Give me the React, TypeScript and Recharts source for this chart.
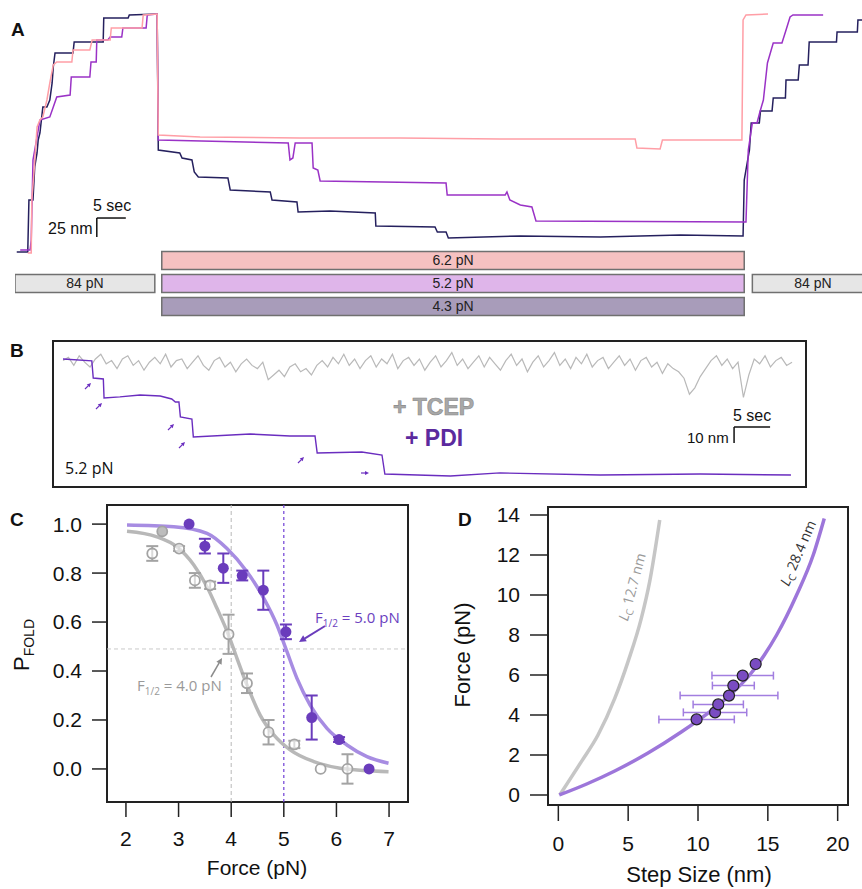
import React from "react";
import {
  LineChart,
  Line,
  XAxis,
  YAxis,
  ReferenceLine,
  ReferenceArea,
  ComposedChart,
  Scatter,
  ErrorBar,
} from "recharts";

const FONT = "'Liberation Sans', Arial, sans-serif";
const SOFT = "'Open Sans', sans-serif";

// ---------- A: extension traces, [time (s), extension (nm)]
const navyA = [
  [0.3, 7.9], [2.2, 7.9], [2.4, 76.3], [3.1, 76.3], [3.4, 119.8], [3.8, 138.2], [4.0, 155.3],
  [4.3, 164.5], [4.8, 198.7], [5.5, 198.7], [6.0, 207.9], [6.4, 230.3], [6.6, 251.4], [6.9, 269.8],
  [10.0, 269.8], [10.2, 284.3], [15.2, 284.3], [15.3, 315.8], [19.5, 315.8], [19.7, 319.8],
  [24.5, 321.1], [24.7, 142.1], [28.4, 138.2], [28.8, 131.6], [30.5, 129.0], [30.9, 113.2],
  [31.6, 106.6], [36.7, 105.3], [37.1, 89.5], [44.0, 86.9], [44.3, 76.3], [48.6, 73.7],
  [48.8, 60.5], [54.3, 61.9], [62.1, 59.2], [62.2, 42.1], [72.4, 40.8], [72.8, 34.2],
  [74.3, 34.2], [74.7, 26.3], [87.1, 29.0], [100.9, 27.6], [114.7, 30.3], [125.5, 29.0],
  [125.7, 102.6], [126.0, 115.8], [126.6, 142.1], [126.9, 177.7], [128.3, 177.7], [128.5, 193.5],
  [130.5, 193.5], [130.7, 210.6], [132.8, 210.6], [132.9, 234.2], [135.0, 234.2], [135.2, 254.0],
  [136.7, 254.0], [136.9, 284.3], [141.6, 284.3], [141.7, 297.4], [145.2, 297.4], [145.3, 313.2],
  [146.0, 313.2],
];
const purpleA = [
  [0.9, 10.5], [2.6, 10.5], [2.8, 23.7], [3.1, 129.0], [3.8, 159.2], [4.3, 181.6], [6.0, 185.6],
  [6.6, 198.7], [7.2, 211.9], [9.5, 214.5], [9.7, 238.2], [12.9, 238.2], [13.1, 257.9],
  [14.0, 257.9], [14.1, 286.9], [16.0, 286.9], [16.4, 290.8], [18.4, 290.8], [18.6, 302.7],
  [22.6, 302.7], [22.8, 319.8], [24.5, 321.1], [24.7, 155.3], [47.1, 151.3], [47.4, 129.0],
  [47.9, 131.6], [48.3, 151.3], [51.2, 151.3], [51.4, 118.4], [52.2, 115.8], [52.6, 101.3],
  [74.3, 98.7], [74.5, 82.9], [84.5, 82.9], [84.8, 86.9], [85.3, 76.3], [87.1, 69.7],
  [89.1, 67.1], [89.8, 48.7], [126.0, 47.4], [126.4, 142.1], [127.1, 177.7], [127.9, 177.7],
  [128.4, 192.2], [129.0, 207.9], [129.7, 256.6], [130.2, 269.8], [130.7, 282.9], [132.2, 282.9],
  [132.8, 297.4], [133.6, 317.2], [134.1, 319.8], [139.3, 319.8],
];
const pinkA = [
  [2.2, 6.6], [2.8, 6.6], [2.9, 76.3], [3.3, 115.8], [3.8, 172.4], [4.3, 181.6], [4.8, 185.6],
  [5.5, 207.9], [6.0, 230.3], [6.6, 254.0], [7.2, 257.9], [9.8, 257.9], [10.0, 273.7],
  [12.9, 273.7], [13.3, 286.9], [16.4, 286.9], [16.6, 302.7], [21.9, 302.7], [22.1, 319.8],
  [24.5, 321.1], [24.7, 161.9], [31.9, 159.2], [49.1, 157.9], [66.4, 157.9], [83.6, 156.6],
  [106.9, 156.6], [107.2, 144.8], [111.2, 143.4], [111.6, 155.3], [125.3, 155.3], [125.5, 313.2],
  [126.0, 319.8], [129.8, 321.1],
];

// force protocol bars (s)
const protocolLabels = ["84 pN", "6.2 pN", "5.2 pN", "4.3 pN", "84 pN"];
const protocolStart = [0, 25.3, 25.3, 25.3, 127.1];
const protocolEnd = [24.1, 125.7, 125.7, 125.7, 148];
const protocolRow = [1.5, 2.5, 1.5, 0.5, 1.5];
const protocolFill = ["#e6e6e6", "#f6c1c1", "#dfb5ea", "#a89cba", "#e6e6e6"];

// ---------- B: 5.2 pN traces
// +TCEP extension (nm), one sample every 0.75 s
const tcepStep = 0.75;
const tcepNm = [
  79, 81, 76, 82, 78, 75, 80, 83, 77, 79, 74, 80,
  82, 76, 79, 73, 78, 81, 77, 83, 75, 79, 80, 74,
  78, 82, 76, 73, 79, 81, 75, 78, 72, 77, 80, 76,
  74, 78, 67, 70, 73, 69, 75, 77, 72, 74, 70, 76,
  79, 75, 81, 77, 83, 76, 80, 74, 79, 82, 75, 80,
  77, 83, 74, 79, 81, 76, 80, 73, 78, 82, 75, 79,
  84, 76, 80, 74, 78, 82, 75, 81, 77, 73, 79, 83,
  76, 80, 72, 78, 82, 75, 79, 84, 76, 80, 74, 81,
  77, 83, 75, 79, 81, 74, 78, 82, 76, 80, 73, 79,
  81, 75, 78, 71, 77, 74, 72, 68, 58, 62, 69, 74,
  79, 82, 76, 80, 74, 78, 56, 70, 80, 77, 82, 75,
  79, 81, 76, 78,
];
// +PDI, [time (s), extension (nm)]
const pdiB = [
  [0, 80], [4.0, 78.8], [4.2, 68.1], [5.6, 67.5], [5.7, 55.6], [7.9, 56.3], [10.7, 57.5],
  [13.5, 56.9], [15.1, 55.0], [15.6, 53.1], [16.1, 53.1], [16.3, 43.8], [17.9, 42.5],
  [18.1, 31.3], [26.0, 33.1], [31.5, 31.9], [35.0, 31.9], [35.3, 21.3], [41.5, 21.9],
  [44.3, 20.0], [44.7, 8.1], [53.8, 6.9], [60.7, 8.8], [74.6, 7.5], [88.5, 8.1], [101.1, 7.5],
];

// ---------- C: P_fold vs force
const forceTcep = [2.5, 2.69, 3.01, 3.31, 3.6, 3.95, 4.3, 4.71, 5.2, 5.7, 6.21];
const pTcep = [0.88, 0.97, 0.9, 0.77, 0.75, 0.55, 0.35, 0.15, 0.1, 0.0, 0.0];
const errTcep = [0.03, 0, 0.01, 0.03, 0.015, 0.08, 0.04, 0.05, 0.015, 0, 0.06];
const forcePdi = [3.2, 3.5, 3.85, 4.21, 4.61, 5.04, 5.53, 6.05, 6.62];
const pPdi = [1.0, 0.91, 0.82, 0.79, 0.73, 0.56, 0.21, 0.12, 0.0];
const errPdi = [0, 0.03, 0.06, 0.02, 0.08, 0.03, 0.09, 0.01, 0];
const fitTcep = [
  [2.02, 0.971], [2.59, 0.948], [2.97, 0.907], [3.29, 0.833], [3.54, 0.744], [3.73, 0.656],
  [3.95, 0.547], [4.11, 0.452], [4.3, 0.343], [4.55, 0.22], [4.81, 0.139], [5.12, 0.078],
  [5.57, 0.03], [6.07, 0.003], [6.99, -0.011],
];
const fitPdi = [
  [2.02, 0.996], [2.91, 0.989], [3.54, 0.962], [3.92, 0.9], [4.3, 0.805], [4.62, 0.697],
  [4.87, 0.588], [5.06, 0.479], [5.25, 0.37], [5.5, 0.261], [5.82, 0.166], [6.2, 0.098],
  [6.58, 0.05], [6.99, 0.023],
];
const forceTicksC = [2, 3, 4, 5, 6, 7];
const pTicks = [0, 0.2, 0.4, 0.6, 0.8, 1.0];

// ---------- D: force vs step size
const stepSize = [9.9, 11.22, 11.45, 12.22, 12.53, 13.2, 14.13];
const stepForce = [3.78, 4.13, 4.53, 4.97, 5.47, 5.97, 6.55];
const stepErr = [2.7, 2.27, 1.8, 3.5, 1.5, 2.2, 0.3];
const wlc127 = [
  [0.1, 0], [1.65, 1.67], [2.84, 3.0], [4.04, 4.83], [4.99, 6.67], [5.94, 8.83], [6.54, 10.67],
  [7.26, 13.75],
];
const wlc284 = [
  [0.07, 0], [2.03, 0.55], [4.04, 1.2], [6.42, 2.1], [8.8, 3.15], [10.86, 4.17], [12.3, 5.0],
  [13.7, 6.0], [14.75, 7.0], [15.63, 8.0], [17.06, 10.0], [18.25, 12.0], [19.04, 13.83],
];
const stepTicks = [0, 5, 10, 15, 20];
const forceTicksD = [0, 2, 4, 6, 8, 10, 12, 14];

const tn = (a: number[][]) => a.map(([t, nm]) => ({ t, nm }));
const xy = (a: number[][]) => a.map(([x, y]) => ({ x, y }));

const tcepB = tcepNm.map((nm, i) => ({ t: i * tcepStep, nm }));
const tcepPts = forceTcep.map((x, i) => ({ x, y: pTcep[i], err: errTcep[i], filled: i === 1 }));
const pdiPts = forcePdi.map((x, i) => ({ x, y: pPdi[i], err: errPdi[i] }));
const stepPts = stepSize.map((x, i) => ({ x, y: stepForce[i], err: stepErr[i] }));

const tickStyle = { fill: "#111", fontSize: 21, fontFamily: FONT };
const tickLine = { stroke: "#222", strokeWidth: 1.5 };

function Txt({ x, y, size, color = "#111", bold = false, family = FONT, style = {}, children }: any) {
  return (
    <div
      style={{
        position: "absolute", left: x, top: y, fontSize: size, lineHeight: 1, color,
        fontWeight: bold ? 700 : 400, fontFamily: family, whiteSpace: "nowrap", ...style,
      }}
    >
      {children}
    </div>
  );
}

function RotTxt({ cx, cy, deg, size, color = "#111", family = FONT, children }: any) {
  return (
    <div
      style={{
        position: "absolute", left: cx, top: cy, fontSize: size, lineHeight: 1, color,
        fontFamily: family, whiteSpace: "nowrap",
        transform: `translate(-50%, -50%) rotate(${deg}deg)`,
      }}
    >
      {children}
    </div>
  );
}

function Arrow({ x1, y1, x2, y2, color, w = 1.5, head = 5 }: any) {
  const a = Math.atan2(y2 - y1, x2 - x1);
  const c = Math.cos(a), s = Math.sin(a);
  const bx = x2 - head * c, by = y2 - head * s;
  const pts = `${x2},${y2} ${bx + head * 0.5 * s},${by - head * 0.5 * c} ${bx - head * 0.5 * s},${by + head * 0.5 * c}`;
  return (
    <g>
      <line x1={x1} y1={y1} x2={bx} y2={by} stroke={color} strokeWidth={w} />
      <polygon points={pts} fill={color} />
    </g>
  );
}

export default function App() {
  return (
    <div style={{ position: "absolute", left: 0, top: 0, width: 862, height: 889, background: "#fff", overflow: "hidden", fontFamily: FONT }}>
      {/* A */}
      <div style={{ position: "absolute", left: 0, top: 0 }}>
        <LineChart width={862} height={320} margin={{ top: 12, right: 0, bottom: 2, left: 15 }}>
          <XAxis hide type="number" dataKey="t" domain={[0, 146]} allowDataOverflow />
          <YAxis hide yAxisId="nm" type="number" domain={[-78.95, 323.68]} allowDataOverflow />
          <YAxis hide yAxisId="row" type="number" domain={[0, 13.304]} allowDataOverflow />
          {protocolLabels.map((lab, i) => (
            <ReferenceArea
              key={i}
              yAxisId="row"
              x1={protocolStart[i]}
              x2={protocolEnd[i]}
              y1={protocolRow[i] - 0.39}
              y2={protocolRow[i] + 0.39}
              fill={protocolFill[i]}
              fillOpacity={1}
              stroke="#707070"
              strokeWidth={1.5}
              ifOverflow="hidden"
              label={{ value: lab, position: "center", fill: "#222", fontSize: 14, fontFamily: FONT }}
            />
          ))}
          <Line yAxisId="nm" data={tn(navyA)} dataKey="nm" stroke="#25205e" strokeWidth={1.5} dot={false} isAnimationActive={false} />
          <Line yAxisId="nm" data={tn(purpleA)} dataKey="nm" stroke="#9a32c6" strokeWidth={1.5} dot={false} isAnimationActive={false} />
          <Line yAxisId="nm" data={tn(pinkA)} dataKey="nm" stroke="#ff9ea6" strokeWidth={1.5} dot={false} isAnimationActive={false} />
          <ReferenceLine yAxisId="nm" segment={[{ x: 14.1, y: 52.6 }, { x: 19.1, y: 52.6 }]} stroke="#111" strokeWidth={1.5} ifOverflow="visible" />
          <ReferenceLine yAxisId="nm" segment={[{ x: 14.1, y: 52.6 }, { x: 14.1, y: 27.6 }]} stroke="#111" strokeWidth={1.5} ifOverflow="visible" />
        </LineChart>
      </div>

      {/* B */}
      <div style={{ position: "absolute", left: 51, top: 339 }}>
        <LineChart width={757} height={150} margin={{ top: 2, right: 2, bottom: 2, left: 2 }}>
          <XAxis hide type="number" dataKey="t" domain={[-1.39, 103.19]} allowDataOverflow />
          <YAxis hide type="number" domain={[0, 91.25]} allowDataOverflow />
          <ReferenceArea x1={-1.39} x2={103.19} y1={0} y2={91.25} fill="#fff" fillOpacity={0} stroke="#222" strokeWidth={2} ifOverflow="visible" />
          <Line data={tcepB} dataKey="nm" stroke="#b9b9b9" strokeWidth={1.2} dot={false} isAnimationActive={false} />
          <Line data={tn(pdiB)} dataKey="nm" stroke="#6a2dbf" strokeWidth={1.4} dot={false} isAnimationActive={false} />
          <ReferenceLine segment={[{ x: 93.2, y: 37.5 }, { x: 98.2, y: 37.5 }]} stroke="#111" strokeWidth={1.5} ifOverflow="visible" />
          <ReferenceLine segment={[{ x: 93.2, y: 37.5 }, { x: 93.2, y: 27.5 }]} stroke="#111" strokeWidth={1.5} ifOverflow="visible" />
        </LineChart>
      </div>

      {/* C */}
      <div style={{ position: "absolute", left: 0, top: 500 }}>
        <ComposedChart width={420} height={389} margin={{ top: 5, right: 12, bottom: 0, left: 0 }}>
          <XAxis type="number" dataKey="x" domain={[1.64, 7.36]} ticks={forceTicksC} interval={0} allowDataOverflow
            axisLine={false} tickSize={15} tickMargin={14} height={87} tick={tickStyle} tickLine={tickLine} />
          <YAxis type="number" dataKey="y" domain={[-0.135, 1.078]} ticks={pTicks} interval={0} allowDataOverflow
            tickFormatter={(v: number) => v.toFixed(1)} axisLine={false} tickSize={15} tickMargin={10} width={107}
            tick={tickStyle} tickLine={tickLine} />
          <ReferenceLine y={0.49} stroke="#c9c9c9" strokeDasharray="4 3" />
          <ReferenceLine x={4} stroke="#b8b8b8" strokeDasharray="4 3" />
          <ReferenceLine x={5} stroke="#6f3fd6" strokeDasharray="3 3" strokeWidth={1.2} />
          <Line data={xy(fitTcep)} dataKey="y" type="monotone" stroke="#b8b8b8" strokeWidth={3.5} dot={false} isAnimationActive={false} />
          <Line data={xy(fitPdi)} dataKey="y" type="monotone" stroke="#a78ce2" strokeWidth={3.5} dot={false} isAnimationActive={false} />
          <Scatter data={tcepPts} dataKey="y" isAnimationActive={false}
            shape={(p: any) => (
              <circle cx={p.cx} cy={p.cy} r={5} fill={p.payload && p.payload.filled ? "#bdbdbd" : "#fff"}
                fillOpacity={p.payload && p.payload.filled ? 1 : 0.6} stroke="#a3a3a3" strokeWidth={1.8} />
            )}>
            <ErrorBar dataKey="err" direction="y" width={6} stroke="#a3a3a3" strokeWidth={2} />
          </Scatter>
          <Scatter data={pdiPts} dataKey="y" isAnimationActive={false}
            shape={(p: any) => <circle cx={p.cx} cy={p.cy} r={5.5} fill="#6a3cbc" />}>
            <ErrorBar dataKey="err" direction="y" width={6} stroke="#6a3cbc" strokeWidth={2} />
          </Scatter>
          <ReferenceArea x1={1.64} x2={7.36} y1={-0.135} y2={1.078} fill="#fff" fillOpacity={0} stroke="#222" strokeWidth={2} ifOverflow="visible" />
        </ComposedChart>
      </div>

      {/* D */}
      <div style={{ position: "absolute", left: 420, top: 500 }}>
        <ComposedChart width={442} height={389} margin={{ top: 7, right: 14, bottom: 0, left: 0 }}>
          <XAxis type="number" dataKey="x" domain={[-0.74, 20.74]} ticks={stepTicks} interval={0} allowDataOverflow
            axisLine={false} tickSize={16} tickMargin={15} height={84} tick={tickStyle} tickLine={tickLine} />
          <YAxis type="number" dataKey="y" domain={[-0.5, 14.4]} ticks={forceTicksD} interval={0} allowDataOverflow
            axisLine={false} tickSize={18} tickMargin={10} width={128} tick={tickStyle} tickLine={tickLine} />
          <Line data={xy(wlc127)} dataKey="y" type="monotone" stroke="#c6c6c6" strokeWidth={3.5} dot={false} isAnimationActive={false} />
          <Line data={xy(wlc284)} dataKey="y" type="monotone" stroke="#9d76da" strokeWidth={3.5} dot={false} isAnimationActive={false} />
          <Scatter data={stepPts} dataKey="y" isAnimationActive={false}
            shape={(p: any) => <circle cx={p.cx} cy={p.cy} r={5.5} fill="#7a4cc2" stroke="#222" strokeWidth={1.2} />}>
            <ErrorBar dataKey="err" direction="x" width={4} stroke="#a27ee0" strokeWidth={1.5} />
          </Scatter>
          <ReferenceArea x1={-0.74} x2={20.74} y1={-0.5} y2={14.4} fill="#fff" fillOpacity={0} stroke="#222" strokeWidth={2} ifOverflow="visible" />
        </ComposedChart>
      </div>

      {/* annotation arrows */}
      <svg width={862} height={889} style={{ position: "absolute", left: 0, top: 0, pointerEvents: "none" }}>
        <Arrow x1={85} y1={389} x2={91} y2={383} color="#6a2dbf" w={1.2} head={4} />
        <Arrow x1={96} y1={409} x2={102} y2={403} color="#6a2dbf" w={1.2} head={4} />
        <Arrow x1={168} y1={430} x2={174} y2={424} color="#6a2dbf" w={1.2} head={4} />
        <Arrow x1={179} y1={448} x2={185} y2={442} color="#6a2dbf" w={1.2} head={4} />
        <Arrow x1={298} y1={463} x2={304} y2={457} color="#6a2dbf" w={1.2} head={4} />
        <Arrow x1={361} y1={473} x2={369} y2={473} color="#6a2dbf" w={1.2} head={4} />
        <Arrow x1={325} y1={626} x2={299} y2={642} color="#6a3cbc" w={2} head={7} />
        <Arrow x1={211} y1={677} x2={222} y2={658} color="#8c8c8c" w={1.5} head={6} />
      </svg>

      {/* texts */}
      <Txt x={11} y={20} size={19} bold>A</Txt>
      <Txt x={93} y={198} size={16}>5 sec</Txt>
      <Txt x={48} y={221} size={16}>25 nm</Txt>

      <Txt x={10} y={341} size={19} bold>B</Txt>
      <Txt x={393} y={396} size={23} bold color="#a8a8a8" style={{ WebkitTextStroke: "0.6px #8a8a8a" }}>+ TCEP</Txt>
      <Txt x={405} y={427} size={23} bold color="#5b2a9e">+ PDI</Txt>
      <Txt x={733} y={408} size={16}>5 sec</Txt>
      <Txt x={687} y={430} size={15}>10 nm</Txt>
      <Txt x={65} y={460} size={16} family={SOFT}>5.2 pN</Txt>

      <Txt x={10} y={510} size={19} bold>C</Txt>
      <Txt x={257} y={857} size={21} style={{ transform: "translateX(-50%)" }}>Force (pN)</Txt>
      <RotTxt cx={22} cy={645} deg={-90} size={22}>
        P<span style={{ fontSize: 14, position: "relative", top: 5 }}>FOLD</span>
      </RotTxt>
      <Txt x={315} y={610} size={15} family={SOFT} color="#6b3fc0">
        F<span style={{ fontSize: 10, position: "relative", top: 4 }}>1/2</span> = 5.0 pN
      </Txt>
      <Txt x={137} y={678} size={15} family={SOFT} color="#999">
        F<span style={{ fontSize: 10, position: "relative", top: 4 }}>1/2</span> = 4.0 pN
      </Txt>

      <Txt x={458} y={510} size={19} bold>D</Txt>
      <Txt x={699} y={864} size={22} style={{ transform: "translateX(-50%)" }}>Step Size (nm)</Txt>
      <RotTxt cx={463} cy={655} deg={-90} size={22}>Force (pN)</RotTxt>
      <RotTxt cx={632} cy={587} deg={-74.7} size={14} color="#9a9a9a" family={SOFT}>
        <i>L</i><span style={{ fontSize: 10, position: "relative", top: 3 }}>C</span> 12.7 nm
      </RotTxt>
      <RotTxt cx={798} cy={553} deg={-66.6} size={14} color="#333" family={SOFT}>
        <i>L</i><span style={{ fontSize: 10, position: "relative", top: 3 }}>C</span> 28.4 nm
      </RotTxt>
    </div>
  );
}
